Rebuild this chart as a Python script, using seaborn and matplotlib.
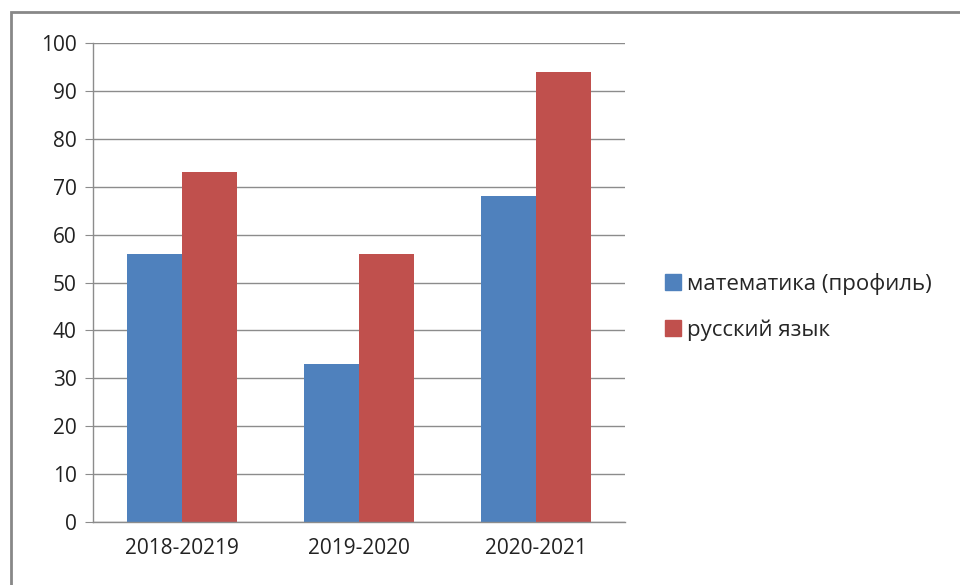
import pandas as pd
import matplotlib.pyplot as plt
import seaborn as sns
from matplotlib.lines import Line2D
from matplotlib.patches import Rectangle

# Data
years = ['2018-20219', '2019-2020', '2020-2021']
math_scores = [56, 33, 68]
russian_scores = [73, 56, 94]
series_names = ['математика (профиль)', 'русский язык']
colors = ['#4F81BD', '#C0504D']

df = pd.DataFrame({
    'year': years * 2,
    'score': math_scores + russian_scores,
    'subject': [series_names[0]] * 3 + [series_names[1]] * 3,
})

sns.set_style('white')
plt.rcParams['font.family'] = ['Open Sans', 'DejaVu Sans']

fig = plt.figure(figsize=(9.6, 5.85), dpi=100)
ax = fig.add_axes([0.097, 0.108, 0.554, 0.818])

sns.barplot(data=df, x='year', y='score', hue='subject', palette=colors,
            width=0.62, saturation=1, linewidth=0, ax=ax, legend=False)

ax.set_ylim(0, 100)
ax.set_yticks(range(0, 101, 10))
ax.set_xlim(-0.5, 2.5)
ax.set_xlabel('')
ax.set_ylabel('')
ax.yaxis.grid(True, color='#8c8c8c', linewidth=1)
ax.set_axisbelow(True)

for s in ['top', 'right']:
    ax.spines[s].set_visible(False)
for s in ['left', 'bottom']:
    ax.spines[s].set_color('#8c8c8c')
    ax.spines[s].set_linewidth(1)

# tick marks between categories on x, outward on y
ax.set_xticks([0, 1, 2])
ax.set_xticks([-0.5, 0.5, 1.5, 2.5], minor=True)
ax.tick_params(axis='x', which='major', length=0, labelsize=15, pad=12, colors='#222222')
ax.tick_params(axis='x', which='minor', length=6, color='#8c8c8c', direction='out')
ax.tick_params(axis='y', length=6, color='#8c8c8c', direction='out', labelsize=15,
               pad=6, labelcolor='#222222', left=True)

handles = [Line2D([], [], marker='s', linestyle='', markersize=11,
                  markerfacecolor=c, markeredgecolor=c) for c in colors]
fig.legend(handles, series_names, loc='center left', bbox_to_anchor=(0.67, 0.475),
           frameon=False, fontsize=16, labelspacing=1.1, handletextpad=0.15,
           handlelength=0.9)

# outer chart border
fig.patches.append(Rectangle((0.011, -0.01), 0.99, 0.99, transform=fig.transFigure,
                             fill=False, edgecolor='#888888', linewidth=2))

plt.savefig('out.png', dpi=100)
